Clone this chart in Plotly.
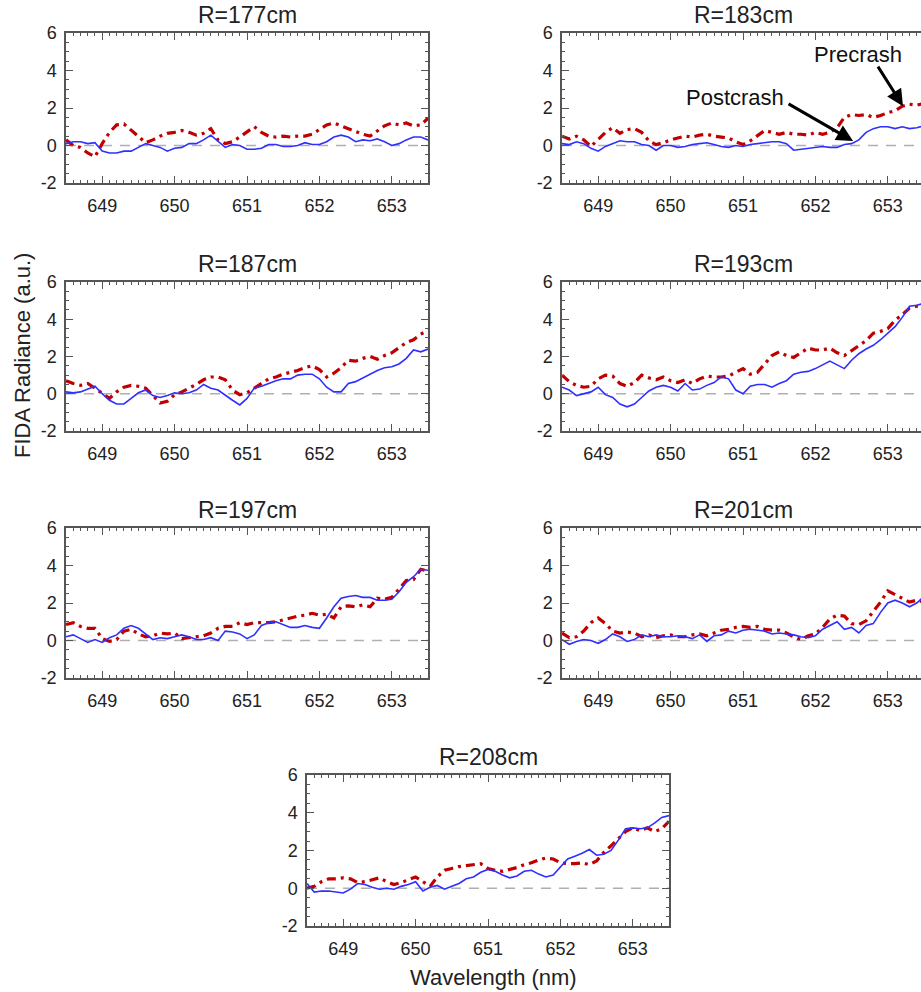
import numpy as np
import plotly.graph_objects as go

# Wavelength grid shared by every spectrum (nm)
wavelength = np.round(np.linspace(648.5, 653.5, 51), 2)

panel_titles = ["R=177cm", "R=183cm", "R=187cm", "R=193cm", "R=197cm", "R=201cm", "R=208cm"]

x_ticks = [649, 650, 651, 652, 653]
y_ticks = [-2, 0, 2, 4, 6]

# FIDA radiance spectra (a.u.), precrash (red) and postcrash (blue)
pre_177 = [0.3, 0.0, -0.1, -0.4, -0.6, 0.1, 0.7, 1.1, 1.15, 0.8, 0.5, 0.15, 0.3, 0.5, 0.65, 0.7, 0.8,
           0.7, 0.55, 0.65, 0.9, 0.3, 0.1, 0.2, 0.45, 0.7, 1.0, 0.7, 0.5, 0.45, 0.5, 0.45, 0.5, 0.5,
           0.6, 0.85, 1.1, 1.2, 1.05, 0.9, 0.75, 0.6, 0.5, 0.75, 1.05, 1.2, 1.1, 1.2, 1.05, 1.1, 1.45]
post_177 = [0.1, 0.2, 0.2, 0.1, 0.15, -0.3, -0.4, -0.4, -0.3, -0.3, -0.1, 0.1, 0.0, -0.1, -0.3, -0.15,
            -0.1, 0.1, 0.1, 0.3, 0.55, 0.2, -0.1, 0.05, 0.0, -0.2, -0.2, -0.15, 0.05, 0.05, -0.05,
            -0.05, 0.0, 0.15, 0.05, 0.05, 0.2, 0.45, 0.55, 0.45, 0.2, 0.3, 0.25, 0.35, 0.2, 0.0, 0.1,
            0.3, 0.45, 0.45, 0.3]

pre_183 = [0.5, 0.35, 0.5, 0.3, -0.05, 0.3, 0.7, 0.95, 0.65, 0.85, 0.9, 0.7, 0.25, 0.05, 0.15, 0.3,
           0.4, 0.5, 0.45, 0.55, 0.6, 0.5, 0.45, 0.4, 0.2, 0.05, 0.25, 0.55, 0.8, 0.7, 0.6, 0.7, 0.6,
           0.6, 0.55, 0.7, 0.6, 0.7, 0.95, 1.5, 1.65, 1.6, 1.65, 1.5, 1.6, 1.75, 1.85, 2.1, 2.2, 2.15,
           2.25]
post_183 = [0.1, 0.05, 0.2, 0.1, -0.15, -0.3, -0.05, 0.1, 0.25, 0.2, 0.2, 0.05, 0.0, -0.25, 0.0, 0.0,
            -0.1, -0.05, 0.05, 0.1, 0.15, 0.05, -0.05, -0.1, 0.0, -0.05, 0.05, 0.1, 0.15, 0.2, 0.2,
            0.1, -0.25, -0.2, -0.15, -0.1, -0.05, -0.1, -0.1, 0.05, 0.1, 0.3, 0.7, 0.9, 1.0, 1.0, 0.9,
            1.0, 0.9, 0.95, 1.05]

pre_187 = [0.7, 0.55, 0.45, 0.55, 0.3, 0.05, -0.25, 0.1, 0.35, 0.45, 0.4, 0.3, -0.1, -0.5, -0.4,
           -0.05, 0.1, 0.3, 0.5, 0.75, 0.9, 0.9, 0.75, 0.2, -0.05, 0.05, 0.3, 0.5, 0.8, 0.9, 1.05,
           1.15, 1.25, 1.4, 1.5, 1.3, 0.9, 1.1, 1.4, 1.8, 1.75, 1.9, 2.0, 1.85, 2.05, 2.2, 2.5, 2.75,
           2.9, 3.2, 3.4]
post_187 = [0.1, 0.05, 0.1, 0.25, 0.4, 0.0, -0.35, -0.55, -0.55, -0.25, 0.05, 0.2, -0.1, -0.2, -0.1,
            0.05, 0.0, 0.05, 0.2, 0.5, 0.3, 0.2, -0.1, -0.35, -0.6, -0.25, 0.3, 0.4, 0.55, 0.7, 0.8,
            0.8, 1.0, 1.05, 1.05, 0.8, 0.35, 0.1, 0.1, 0.55, 0.65, 0.85, 1.05, 1.25, 1.4, 1.45, 1.6,
            1.9, 2.35, 2.25, 2.4]

pre_193 = [1.0, 0.65, 0.45, 0.35, 0.4, 0.8, 1.0, 0.95, 0.55, 0.4, 0.6, 1.0, 0.85, 0.75, 0.9, 0.7,
           0.6, 0.75, 0.55, 0.8, 0.95, 0.9, 0.9, 0.95, 1.15, 1.35, 1.05, 1.15, 1.6, 2.05, 2.25, 2.05,
           1.95, 2.2, 2.45, 2.35, 2.35, 2.45, 2.2, 2.05, 2.3, 2.55, 2.85, 3.25, 3.35, 3.5, 3.95, 4.25,
           4.6, 4.7, 4.75]
post_193 = [0.35, 0.2, -0.1, 0.0, 0.1, 0.35, -0.05, -0.2, -0.55, -0.7, -0.55, -0.2, 0.15, 0.35, 0.45,
            0.35, 0.15, 0.55, 0.2, 0.25, 0.45, 0.6, 0.9, 0.8, 0.2, 0.0, 0.4, 0.5, 0.5, 0.35, 0.55, 0.7,
            1.05, 1.15, 1.2, 1.35, 1.55, 1.75, 1.55, 1.35, 1.8, 2.15, 2.4, 2.6, 2.9, 3.25, 3.6, 4.1,
            4.7, 4.75, 4.85]

pre_197 = [0.85, 0.95, 0.75, 0.65, 0.65, 0.1, -0.05, 0.05, 0.5, 0.6, 0.35, 0.2, 0.25, 0.4, 0.35, 0.4,
           0.1, 0.15, 0.2, 0.25, 0.4, 0.65, 0.75, 0.75, 0.95, 0.85, 0.95, 0.95, 0.95, 1.0, 1.1, 1.2,
           1.3, 1.35, 1.45, 1.35, 1.4, 1.2, 1.8, 1.85, 1.8, 1.9, 1.8, 2.25, 2.2, 2.3, 2.75, 3.2, 3.25,
           3.8, 3.7]
post_197 = [0.2, 0.3, 0.1, -0.1, 0.05, -0.1, 0.15, 0.3, 0.65, 0.8, 0.65, 0.35, 0.05, 0.15, 0.1, 0.2,
            0.3, 0.2, 0.05, 0.05, 0.15, 0.0, 0.5, 0.45, 0.35, 0.1, 0.3, 0.8, 0.95, 1.0, 0.85, 0.7, 0.7,
            0.8, 0.7, 0.65, 1.2, 1.8, 2.25, 2.35, 2.4, 2.3, 2.3, 2.15, 2.15, 2.2, 2.6, 3.1, 3.4, 3.8,
            3.75]

pre_201 = [0.4, 0.15, 0.2, 0.5, 0.95, 1.2, 0.9, 0.5, 0.4, 0.45, 0.4, 0.2, 0.3, 0.15, 0.25, 0.3, 0.2,
           0.2, 0.3, 0.35, 0.25, 0.4, 0.55, 0.6, 0.7, 0.75, 0.7, 0.75, 0.6, 0.55, 0.55, 0.4, 0.2, 0.05,
           0.25, 0.35, 0.7, 1.15, 1.35, 1.3, 0.9, 0.85, 1.05, 1.55, 2.05, 2.65, 2.45, 2.25, 2.05, 2.15,
           2.05]
post_201 = [0.05, -0.2, -0.05, 0.05, 0.0, -0.15, 0.05, 0.35, 0.2, -0.05, 0.05, 0.3, 0.2, 0.3, 0.2,
            0.2, 0.25, 0.2, 0.1, 0.3, -0.05, 0.25, 0.3, 0.5, 0.4, 0.55, 0.6, 0.55, 0.5, 0.35, 0.4,
            0.35, 0.3, 0.2, 0.15, 0.25, 0.6, 0.8, 1.0, 0.6, 0.7, 0.4, 0.8, 0.9, 1.5, 2.0, 2.15, 2.0,
            1.8, 2.0, 2.35]

pre_208 = [0.0, 0.1, 0.35, 0.5, 0.5, 0.55, 0.5, 0.3, 0.35, 0.45, 0.55, 0.35, 0.2, 0.3, 0.45, 0.6,
           0.35, 0.1, 0.6, 0.95, 1.05, 1.15, 1.2, 1.25, 1.3, 1.05, 0.95, 0.9, 1.0, 1.1, 1.25, 1.35,
           1.5, 1.6, 1.55, 1.35, 1.3, 1.3, 1.35, 1.25, 1.45, 1.9, 2.25, 2.6, 3.0, 3.2, 3.05, 3.2, 3.0,
           3.15, 3.55]
post_208 = [0.25, -0.2, -0.15, -0.15, -0.2, -0.25, -0.05, 0.25, 0.2, 0.05, -0.05, 0.0, -0.05, 0.1,
            0.2, 0.35, -0.15, 0.05, 0.15, -0.05, 0.1, 0.25, 0.5, 0.6, 0.85, 1.0, 0.9, 0.7, 0.55, 0.65,
            0.9, 0.95, 0.75, 0.6, 0.7, 1.1, 1.55, 1.7, 1.85, 2.05, 1.75, 1.8, 2.0, 2.55, 3.15, 3.2,
            3.15, 3.2, 3.45, 3.75, 3.85]

precrash = [pre_177, pre_183, pre_187, pre_193, pre_197, pre_201, pre_208]
postcrash = [post_177, post_183, post_187, post_193, post_197, post_201, post_208]

# Page geometry (pixels); right-hand column runs off the page edge
W, H = 921, 992
PANEL_W = 362
FULL_SCALE = 72.4  # px per nm
boxes = [  # left, top, bottom
    (66, 33, 183), (562, 33, 183),
    (66, 282, 431), (562, 282, 431),
    (66, 528, 678), (562, 528, 678),
    (307, 775, 926),
]

RED = "#c00000"
BLUE = "#2f2fff"
FRAME = "#555555"
TEXT = "#222222"
FONT = "Arial, Liberation Sans, sans-serif"

fig = go.Figure()
annotations = []
shapes = []

for i, (title, pre, post, (left, top, bottom)) in enumerate(zip(panel_titles, precrash, postcrash, boxes)):
    n = "" if i == 0 else str(i + 1)
    right = min(left + PANEL_W, W)
    x_hi = 648.5 + (right - left) / FULL_SCALE
    clipped = right < left + PANEL_W

    fig.add_trace(go.Scatter(x=wavelength, y=pre, mode="lines", xaxis="x" + n, yaxis="y" + n,
                             line=dict(color=RED, width=3.2, dash="9px,5px,3px,5px"),
                             showlegend=False, hoverinfo="skip"))
    fig.add_trace(go.Scatter(x=wavelength, y=post, mode="lines", xaxis="x" + n, yaxis="y" + n,
                             line=dict(color=BLUE, width=1.6),
                             showlegend=False, hoverinfo="skip"))

    shapes.append(dict(type="line", xref=f"x{n} domain", x0=0, x1=1, yref="y" + n, y0=0, y1=0,
                       line=dict(color="#b0b0b0", width=1.5, dash="10px,8px"), layer="below"))

    fig.layout["xaxis" + n] = dict(
        domain=[left / W, right / W], range=[648.5, x_hi], anchor="y" + n, automargin=False,
        tickvals=x_ticks, ticktext=[str(v) for v in x_ticks],
        ticks="inside", ticklen=7, tickwidth=1.2, tickcolor=FRAME,
        minor=dict(dtick=0.1, tick0=648.5, ticks="inside", ticklen=3, tickwidth=1, tickcolor=FRAME),
        showline=True, linecolor=FRAME, linewidth=1.5, mirror="allticks",
        showgrid=False, zeroline=False, fixedrange=True,
        tickfont=dict(family=FONT, size=18, color=TEXT), ticklabelstandoff=6,
    )
    fig.layout["yaxis" + n] = dict(
        domain=[1 - bottom / H, 1 - top / H], range=[-2, 6], anchor="x" + n, automargin=False,
        tickvals=y_ticks, ticktext=[str(v) for v in y_ticks],
        ticks="inside", ticklen=7, tickwidth=1.2, tickcolor=FRAME,
        minor=dict(dtick=0.5, ticks="inside", ticklen=3, tickwidth=1, tickcolor=FRAME),
        showline=True, linecolor=FRAME, linewidth=1.5,
        mirror=False if clipped else "allticks",
        showgrid=False, zeroline=False, fixedrange=True,
        tickfont=dict(family=FONT, size=18, color=TEXT), ticklabelstandoff=4,
    )

    annotations.append(dict(text=title, xref="paper", yref="paper",
                            x=(left + PANEL_W / 2) / W, y=1 - (top - 18) / H,
                            xanchor="center", yanchor="middle", showarrow=False,
                            font=dict(family=FONT, size=23, color=TEXT)))

# Arrow labels on the R=183cm panel
annotations += [
    dict(text="Precrash", xref="paper", yref="paper", x=858 / W, y=1 - 55 / H,
         xanchor="center", yanchor="middle", showarrow=False,
         font=dict(family=FONT, size=22, color="#111111")),
    dict(text="Postcrash", xref="paper", yref="paper", x=735 / W, y=1 - 97 / H,
         xanchor="center", yanchor="middle", showarrow=False,
         font=dict(family=FONT, size=22, color="#111111")),
    dict(text="", xref="x2", yref="y2", x=653.21, y=2.1, ax=-26, ay=-41,
         showarrow=True, arrowhead=2, arrowsize=1.1, arrowwidth=3, arrowcolor="#000000"),
    dict(text="", xref="x2", yref="y2", x=652.52, y=0.24, ax=-66, ay=-38,
         showarrow=True, arrowhead=2, arrowsize=1.1, arrowwidth=3, arrowcolor="#000000"),
    dict(text="FIDA Radiance (a.u.)", xref="paper", yref="paper", x=22 / W, y=1 - 356 / H,
         textangle=-90, xanchor="center", yanchor="middle", showarrow=False,
         font=dict(family=FONT, size=22, color=TEXT)),
    dict(text="Wavelength (nm)", xref="paper", yref="paper", x=493 / W, y=1 - 977 / H,
         xanchor="center", yanchor="middle", showarrow=False,
         font=dict(family=FONT, size=22, color=TEXT)),
]

fig.update_layout(
    width=W, height=H, margin=dict(l=0, r=0, t=0, b=0, autoexpand=False),
    paper_bgcolor="white", plot_bgcolor="white",
    annotations=annotations, shapes=shapes, showlegend=False,
)

fig.write_html("out.html")
